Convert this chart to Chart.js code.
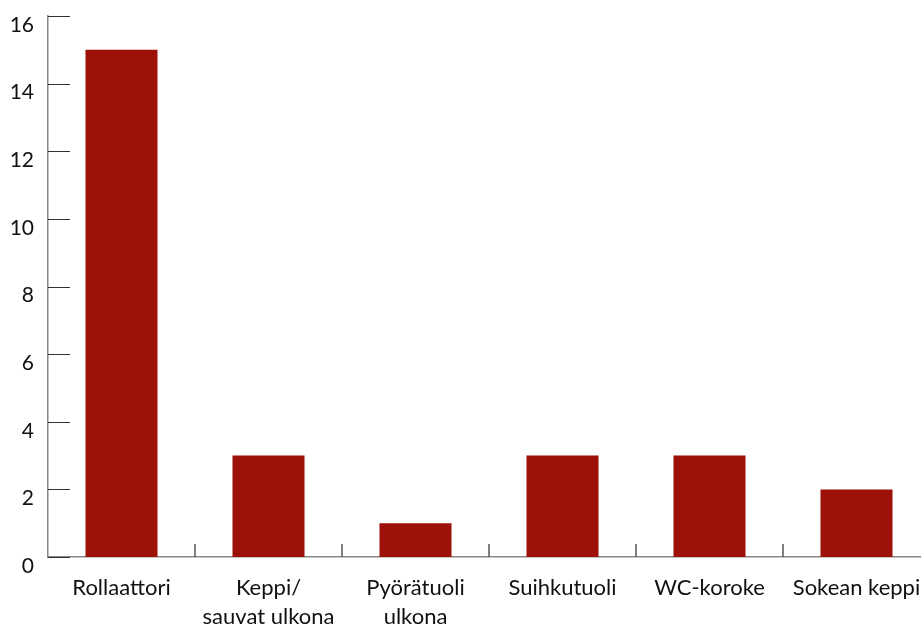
<!DOCTYPE html>
<html>
<head>
<meta charset="utf-8">
<script src="https://cdn.jsdelivr.net/npm/chart.js@4.4.0/dist/chart.umd.min.js"></script>
<style>
    html, body { margin: 0; padding: 0; background: #fff; overflow: hidden; }
    #wrap { width: 921px; height: 627px; overflow: hidden; }
</style>
</head>
<body>
<div id="wrap"><canvas id="chart" width="940" height="627"></canvas></div>
<script>
// Chart data
const categories = [
    'Rollaattori',
    ['Keppi/', 'sauvat ulkona'],
    ['Pyörätuoli', 'ulkona'],
    'Suihkutuoli',
    'WC-koroke',
    'Sokean keppi'
];
const counts = [15, 3, 1, 3, 3, 2];
const yTicks = [0, 2, 4, 6, 8, 10, 12, 14, 16];

// Inner tick marks: y ticks to the right of the axis, category separators upward
const innerTicks = {
    id: 'innerTicks',
    afterDatasetsDraw(chart) {
        const { ctx, chartArea, scales } = chart;
        ctx.save();
        ctx.strokeStyle = '#333';
        ctx.lineWidth = 1;
        yTicks.forEach(v => {
            const y = Math.round(scales.y.getPixelForValue(v)) + 0.5;
            ctx.beginPath();
            ctx.moveTo(chartArea.left, y);
            ctx.lineTo(chartArea.left + 22, y);
            ctx.stroke();
        });
        ctx.strokeStyle = '#555';
        ctx.lineWidth = 1.5;
        for (let i = 1; i < categories.length; i++) {
            const x = (scales.x.getPixelForValue(i - 1) + scales.x.getPixelForValue(i)) / 2;
            ctx.beginPath();
            ctx.moveTo(x, chartArea.bottom);
            ctx.lineTo(x, chartArea.bottom - 13);
            ctx.stroke();
        }
        ctx.restore();
    }
};

new Chart(document.getElementById('chart'), {
    type: 'bar',
    data: {
        labels: categories,
        datasets: [{
            data: counts,
            backgroundColor: '#9c1108',
            barPercentage: 0.49,
            categoryPercentage: 1
        }]
    },
    options: {
        responsive: false,
        animation: false,
        layout: { padding: { top: 16, right: 10, left: 0, bottom: 0 } },
        plugins: {
            legend: { display: false },
            tooltip: { enabled: false }
        },
        scales: {
            x: {
                grid: { display: false, drawTicks: false },
                border: { color: '#888', width: 1.5 },
                ticks: {
                    color: '#111',
                    font: { family: 'Lato', size: 22, lineHeight: 1.3 },
                    padding: 17,
                    maxRotation: 0,
                    autoSkip: false
                },
                afterFit(scale) {
                    scale.height = 70;
                    scale.paddingLeft = 0;
                    scale.paddingRight = 0;
                }
            },
            y: {
                min: 0,
                max: 16,
                afterBuildTicks(scale) { scale.ticks = yTicks.map(v => ({ value: v })); },
                grid: { display: false, drawTicks: false },
                border: { color: '#888', width: 1.5 },
                ticks: {
                    color: '#111',
                    font: { family: 'Lato', size: 21 },
                    padding: 14,
                    labelOffset: 9
                },
                afterFit(scale) {
                    scale.width = 48;
                    scale.paddingTop = 0;
                    scale.paddingBottom = 0;
                }
            }
        }
    },
    plugins: [innerTicks]
});
</script>
</body>
</html>
